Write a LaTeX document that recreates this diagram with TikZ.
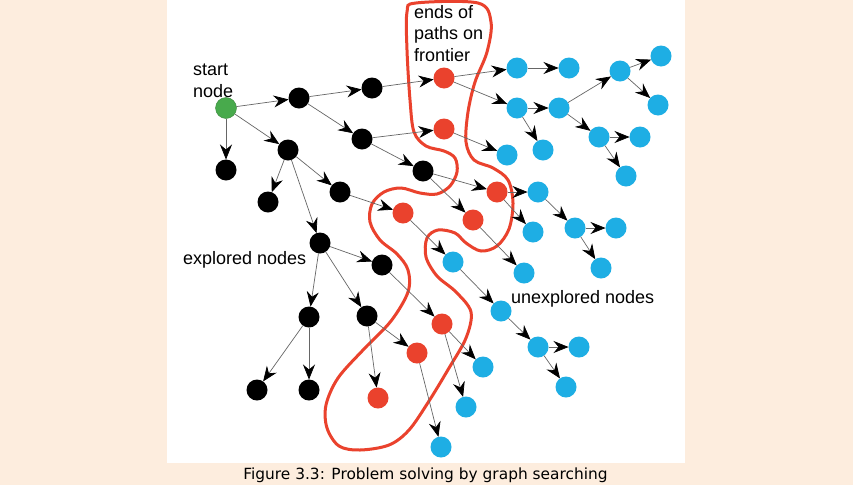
\documentclass[tikz,border=0pt]{standalone}
\usepackage{fontspec}
\setmainfont{Liberation Sans}
\newfontfamily\captionfont{DejaVu Sans}
\usetikzlibrary{arrows.meta}

\definecolor{pagebg}{RGB}{253,237,222}
\definecolor{startgreen}{RGB}{72,170,76}
\definecolor{frontred}{RGB}{234,66,45}
\definecolor{openblue}{RGB}{30,174,228}

\begin{document}
\begin{tikzpicture}[x=1pt,y=-1pt,
  every node/.style={inner sep=0pt,outer sep=0pt},
  label text/.style={font=\fontsize{18}{21.8}\selectfont,align=left}
]

\tikzstyle{vertex}=[circle,minimum size=21pt]
\tikzstyle{start}=[vertex,fill=startgreen,draw=startgreen!80!black,line width=0.4pt]
\tikzstyle{explored}=[vertex,fill=black]
\tikzstyle{frontier}=[vertex,fill=frontred]
\tikzstyle{unexplored}=[vertex,fill=openblue]
\tikzstyle{edge}=[draw=black!60,line width=0.7pt,-{Stealth[length=15pt,width=12pt,inset=5pt,black]}]
\tikzstyle{blob}=[draw=frontred,line width=3pt]

\useasboundingbox (0,0) rectangle (858,485);
\fill[pagebg] (0,0) rectangle (858,485);
\fill[white] (167,0) rectangle (685,463);
\fill[white] (853,0) rectangle (858,485);

% frontier outline
\draw[blob] plot[smooth cycle,tension=0.55] coordinates {
  (407,12) (416,3) (478,3) (491,22) (487,52) (475,82) (468,112) (466,142)
  (474,160) (493,168) (508,180) (513,203) (509,229) (497,246) (481,251)
  (466,243) (455,233) (438,230) (427,238) (426,257) (437,276) (456,292)
  (471,312) (466,338) (449,368) (429,401) (409,430) (389,445) (360,450)
  (339,446) (327,428) (326,405) (338,378) (364,349) (391,321) (408,292)
  (408,270) (397,254) (380,240) (370,222) (372,204) (384,192) (401,188)
  (420,193) (437,194) (450,186) (457,172) (455,158) (444,151) (426,146)
  (414,132) (410,100) (407,50)};

% nodes
\node[start] (s) at (226,108) {};

\foreach \n/\x/\y in {e1/299/98, e2/372/88, e3/226/170, e4/288/150,
  e5/362/139, e6/268/202, e7/340/192, e8/423/171, e9/320/243,
  e10/382/265, e11/309/317, e12/367/316, e13/257/390, e14/309/390}
  \node[explored] (\n) at (\x,\y) {};

\foreach \n/\x/\y in {f1/444/78, f2/444/129, f3/497/192, f4/403/213,
  f5/473/220, f6/442/324, f7/417/353, f8/378/398}
  \node[frontier] (\n) at (\x,\y) {};

\foreach \n/\x/\y in {u1/517/68, u2/569/68, u3/517/108, u4/559/108,
  u5/620/71, u6/661/56, u7/658/105, u8/543/150, u9/507/155,
  u10/599/137, u11/640/137, u12/626/176, u13/538/192, u14/533/232,
  u15/575/228, u16/616/228, u17/601/268, u18/453/262, u19/524/273,
  u20/501/311, u21/538/347, u22/579/347, u23/566/387, u24/483/367,
  u25/466/407, u26/441/447}
  \node[unexplored] (\n) at (\x,\y) {};

% edges
\foreach \a/\b in {s/e1, s/e3, s/e4, e1/e2, e1/e5, e2/f1, e5/f2, e5/e8,
  e4/e6, e4/e7, e4/e9, e7/f4, e8/f3, e8/f5, e9/e10, e9/e11, e9/e12,
  e10/f6, e11/e13, e11/e14, e12/f7, e12/f8,
  f1/u1, f1/u3, u1/u2, u3/u4, u3/u8, u4/u5, u4/u10, u5/u6, u5/u7,
  u10/u11, u10/u12, f2/u9, f3/u13, f3/u14, u13/u15, u15/u16, u15/u17,
  f5/u19, f4/u18, u18/u20, u20/u21, u21/u22, u21/u23,
  f6/u24, f6/u25, f7/u26}
  \draw[edge] (\a) -- (\b);

% labels
\node[label text,anchor=north west] (startlabel) at (193,64) {start\\node};
\node[label text,anchor=north west] (frontierlabel) at (414,5) {ends of\\paths on\\frontier};
\node[label text,anchor=base west] (exploredlabel) at (183,264) {explored nodes};
\node[label text,anchor=base west] (unexploredlabel) at (511,303) {unexplored nodes};

\node[font=\captionfont\fontsize{15.4}{18}\selectfont,anchor=base] (caption) at (425.5,479)
  {Figure 3.3: Problem solving by graph searching};
\end{tikzpicture}
\end{document}
